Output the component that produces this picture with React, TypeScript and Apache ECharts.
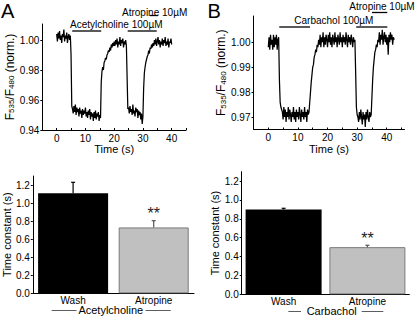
import { useEffect, useRef } from 'react';
import * as echarts from 'echarts';

const FONT = '"Liberation Sans", Arial, Helvetica, sans-serif';

// ---------- Data ----------
const sampleStep = 0.25; // s between samples

// Panel A: acetylcholine trace (F535/F480, normalised), t = 0 .. 40 s
const achTrace = [
  1.004, 0.999, 1.005, 1.001, 1.006, 1.000, 1.003, 0.998, 1.004, 1.002,
  1.007, 0.999, 1.003, 1.001, 1.005, 0.998, 1.002, 1.004, 1.000, 1.003,
  0.990, 0.956,
  0.954, 0.951, 0.956, 0.952, 0.957, 0.950, 0.955, 0.952, 0.954, 0.949,
  0.955, 0.951, 0.953, 0.948, 0.954, 0.950, 0.953, 0.951, 0.955, 0.949,
  0.952, 0.948, 0.953, 0.950, 0.954, 0.947, 0.952, 0.949, 0.951, 0.946,
  0.952, 0.948, 0.953, 0.947, 0.951, 0.949, 0.952, 0.946, 0.950, 0.948,
  0.972, 0.979, 0.982, 0.980, 0.985, 0.986, 0.988, 0.987, 0.990, 0.991,
  0.993, 0.992, 0.995, 0.993, 0.997, 0.995, 0.998, 0.996, 0.999,
  0.996, 1.000, 0.997, 1.001, 0.995, 0.999, 0.997, 1.002, 0.996, 1.000,
  0.998, 1.001, 0.995, 0.999, 0.997, 1.000, 0.996,
  0.975, 0.954,
  0.955, 0.951, 0.956, 0.952, 0.954, 0.950, 0.957, 0.951, 0.953, 0.949,
  0.955, 0.952, 0.954, 0.948, 0.953, 0.950, 0.952, 0.947, 0.951, 0.944,
  0.949,
  0.968, 0.978, 0.982, 0.985, 0.987, 0.989, 0.990, 0.993, 0.991, 0.995,
  0.994, 0.997, 0.995, 0.998,
  0.996, 1.000, 0.997, 1.001, 0.996, 0.999, 1.002, 0.997, 1.000, 0.995,
  0.999, 0.997, 1.001, 0.996, 1.000, 0.998, 1.002, 0.996, 0.999, 0.997,
  1.001, 0.995, 0.999, 0.998, 1.001, 0.997,
];

// Panel B: carbachol trace, t = 0 .. 42.5 s
const carbTrace = [
  0.998, 1.002, 0.997, 1.003, 0.999, 1.001, 0.997, 1.003, 0.998, 1.002,
  0.999, 1.003, 0.997, 1.001, 1.002,
  0.985, 0.976, 0.974, 0.973,
  0.972, 0.969, 0.974, 0.970, 0.973, 0.968, 0.972, 0.970, 0.974, 0.969,
  0.973, 0.971, 0.968, 0.972, 0.970, 0.974, 0.969, 0.972, 0.968, 0.973,
  0.970, 0.972, 0.969, 0.974, 0.971, 0.968, 0.973, 0.970, 0.972, 0.969,
  0.974, 0.970, 0.972, 0.968, 0.973, 0.971, 0.972,
  0.976, 0.980, 0.984, 0.987, 0.990, 0.991, 0.994, 0.995, 0.997, 0.996,
  0.999, 0.998, 1.001,
  0.999, 1.003, 0.998, 1.002, 1.000, 1.004, 0.998, 1.002, 0.999, 1.003,
  1.001, 0.998, 1.003, 1.000, 1.004, 0.999, 1.002, 0.998, 1.003, 1.001,
  0.999, 1.004, 1.000, 1.002, 0.998, 1.003, 1.001, 0.999, 1.004, 1.000,
  1.002, 0.998, 1.003, 1.000, 1.002, 0.999, 1.004, 1.001, 0.998, 1.003,
  1.000, 1.002, 0.999, 1.003, 1.001, 0.998, 1.002, 1.000, 1.001,
  0.988, 0.974, 0.971,
  0.970, 0.968, 0.972, 0.969, 0.973, 0.970, 0.967, 0.972, 0.969, 0.971,
  0.966, 0.972, 0.969, 0.973, 0.970, 0.968, 0.972, 0.970, 0.971,
  0.978, 0.985, 0.990, 0.993, 0.996, 0.997, 0.999, 0.998, 1.001,
  1.000, 1.004, 0.999, 1.003, 1.001, 1.005, 0.999, 1.002, 1.004, 1.000,
  1.003, 0.999, 1.002, 0.995, 1.003, 1.000, 1.004, 1.001, 1.003, 0.999,
  1.002, 1.001,
];

const timeLabelTicks = [0, 10, 20, 30, 40];
const timeMinorTicks = [0, 5, 10, 15, 20, 25, 30, 35, 40, 45];
const achYTicks = [0.94, 0.96, 0.98, 1.0];
const carbYTicks = [0.97, 0.98, 0.99, 1.0];

// drug application periods (s)
const achAgonistPeriods = [[5.4, 15.5], [24.7, 34.8]];
const achAtropinePeriod = [32.4, 35.3];
const carbAgonistPeriods = [[3.7, 14.1], [29.7, 40.2]];
const carbAtropinePeriod = [35.0, 40.2];

// bar charts
const barCategories = ['Wash', 'Atropine'];
const achTau = [1.11, 0.73];
const achTauErr = [0.12, 0.075];
const carbTau = [0.9, 0.5];
const carbTauErr = [0.012, 0.02];
const significance = ['', '**'];
const barYTicks = [0, 0.2, 0.4, 0.6, 0.8, 1.0, 1.2];

// ---------- Styles ----------
const axisLineStyle = { color: '#000', width: 1 };
const labelStyle = { fontSize: 10, color: '#000', fontFamily: FONT };
const barItemStyles = [
  { color: '#000000' },
  { color: '#c0c0c0', borderColor: '#7a7a7a', borderWidth: 1 },
];
const errColors = ['#000', '#555'];

const yNameRich = {
  a: { fontSize: 12, lineHeight: 12, verticalAlign: 'top', fontFamily: FONT, color: '#000' },
  s: { fontSize: 8, lineHeight: 3, verticalAlign: 'bottom', fontFamily: FONT, color: '#000' },
};

function traceAxes(gi: number, xMax: number, yMin: number, yMax: number, yTicks: number[], nameGap: number) {
  const x = {
    gridIndex: gi,
    type: 'value',
    min: -5,
    max: xMax,
    axisLine: { show: true, onZero: false, lineStyle: axisLineStyle },
    axisTick: { show: true, inside: true, length: 2, customValues: timeMinorTicks, lineStyle: axisLineStyle },
    axisLabel: { ...labelStyle, margin: 3, customValues: timeLabelTicks, formatter: (v: number) => String(v) },
    splitLine: { show: false },
    name: 'Time (s)',
    nameLocation: 'middle',
    nameGap: 10,
    nameTextStyle: { fontSize: 11, color: '#000', fontFamily: FONT },
  };
  const y = {
    gridIndex: gi,
    type: 'value',
    min: yMin,
    max: yMax,
    axisLine: { show: true, onZero: false, lineStyle: axisLineStyle },
    axisTick: { show: true, inside: false, length: 2, customValues: yTicks, lineStyle: axisLineStyle },
    axisLabel: { ...labelStyle, margin: 3, customValues: yTicks, formatter: (v: number) => v.toFixed(2) },
    splitLine: { show: false },
    name: '{a|F}{s|535}{a|/F}{s|480}{a| (norm.)}',
    nameLocation: 'middle',
    nameRotate: 90,
    nameGap,
    nameTextStyle: { rich: yNameRich },
  };
  return { x, y };
}

function barAxes(gi: number, nameGap: number) {
  const x = {
    gridIndex: gi,
    type: 'category',
    data: barCategories,
    axisLine: { show: true, onZero: false, lineStyle: axisLineStyle },
    axisTick: { show: false },
    axisLabel: { ...labelStyle, margin: 2 },
  };
  const y = {
    gridIndex: gi,
    type: 'value',
    min: 0,
    max: 1.3,
    axisLine: { show: true, onZero: false, lineStyle: axisLineStyle },
    axisTick: { show: true, inside: false, length: 2, customValues: barYTicks, lineStyle: axisLineStyle },
    axisLabel: { ...labelStyle, margin: 3, customValues: barYTicks, formatter: (v: number) => v.toFixed(1) },
    splitLine: { show: false },
    name: 'Time constant (s)',
    nameLocation: 'middle',
    nameRotate: 90,
    nameGap,
    nameTextStyle: { fontSize: 11, color: '#000', fontFamily: FONT },
  };
  return { x, y };
}

function errorSeries(gi: number, means: number[], errs: number[]) {
  return {
    type: 'custom',
    xAxisIndex: gi,
    yAxisIndex: gi,
    z: 10,
    data: means.map((m, i) => [i, m, errs[i]]),
    renderItem: (params: any, api: any) => {
      const base = api.coord([api.value(0), api.value(1)]);
      const top = api.coord([api.value(0), api.value(1) + api.value(2)]);
      const c = errColors[params.dataIndex];
      const children: any[] = [
        { type: 'line', shape: { x1: base[0], y1: base[1], x2: top[0], y2: top[1] }, style: { stroke: c, lineWidth: 1.2 } },
        { type: 'line', shape: { x1: top[0] - 2, y1: top[1], x2: top[0] + 2, y2: top[1] }, style: { stroke: c, lineWidth: 1.2 } },
      ];
      const sig = significance[params.dataIndex];
      if (sig) {
        children.push({
          type: 'text',
          x: top[0],
          y: top[1] - 7,
          style: { text: sig, fontSize: 16, fill: '#222', align: 'center', verticalAlign: 'middle', fontFamily: FONT },
        });
      }
      return { type: 'group', children };
    },
  };
}

export default function App() {
  const ref = useRef<HTMLDivElement>(null);

  useEffect(() => {
    document.body.style.margin = '0';
    const chart = echarts.init(ref.current!, undefined, { renderer: 'svg' });

    const aTop = traceAxes(0, 45, 0.94, 1.01067, achYTicks, 22);
    const bTop = traceAxes(1, 46, 0.965, 1.0105, carbYTicks, 20);
    const aBot = barAxes(2, 17.5);
    const bBot = barAxes(3, 17.5);

    chart.setOption({
      animation: false,
      backgroundColor: '#fff',
      textStyle: { fontFamily: FONT },
      grid: [
        { left: 42.3, top: 24, width: 143.75, height: 106 },
        { left: 253.5, top: 16, width: 151, height: 113.5 },
        { left: 29, top: 176, width: 165, height: 117.3 },
        { left: 241.7, top: 171.7, width: 167.6, height: 122.6 },
      ],
      xAxis: [aTop.x, bTop.x, aBot.x, bBot.x],
      yAxis: [aTop.y, bTop.y, aBot.y, bBot.y],
      series: [
        {
          type: 'line', xAxisIndex: 0, yAxisIndex: 0, symbol: 'none',
          lineStyle: { color: '#000', width: 1.25 },
          data: achTrace.map((v, i) => [i * sampleStep, v]),
        },
        {
          type: 'line', xAxisIndex: 1, yAxisIndex: 1, symbol: 'none',
          lineStyle: { color: '#000', width: 1.25 },
          data: carbTrace.map((v, i) => [i * sampleStep, v]),
        },
        {
          type: 'bar', xAxisIndex: 2, yAxisIndex: 2, barWidth: 70,
          data: achTau.map((v, i) => ({ value: v, itemStyle: barItemStyles[i] })),
        },
        {
          type: 'bar', xAxisIndex: 3, yAxisIndex: 3, barWidth: 76,
          data: carbTau.map((v, i) => ({ value: v, itemStyle: barItemStyles[i] })),
        },
        errorSeries(2, achTau, achTauErr),
        errorSeries(3, carbTau, carbTauErr),
      ],
    });

    const px = (axis: number, t: number) => chart.convertToPixel({ xAxisIndex: axis }, t) as number;
    const hLine = (x1: number, x2: number, y: number, w = 1.3, color = '#000') => ({
      type: 'line', shape: { x1, y1: y, x2, y2: y }, style: { stroke: color, lineWidth: w },
    });
    const txt = (text: string, x: number, y: number, size: number, align = 'left') => ({
      type: 'text', x, y,
      style: { text, fontSize: size, fill: '#000', fontFamily: FONT, align, verticalAlign: 'middle' },
    });

    const graphics: any[] = [
      txt('A', 1, 10.5, 20),
      txt('B', 207.5, 10.5, 20),
      // panel A annotations
      txt('Atropine 10µM', 122, 12, 10),
      hLine(px(0, achAtropinePeriod[0]), px(0, achAtropinePeriod[1]), 15.5),
      txt('Acetylcholine 100µM', 70, 24, 10),
      ...achAgonistPeriods.map(([a, b]) => hLine(px(0, a), px(0, b), 31)),
      // panel B annotations
      txt('Atropine 10µM', 349.3, 6.5, 10),
      hLine(px(1, carbAtropinePeriod[0]), px(1, carbAtropinePeriod[1]), 12.5),
      txt('Carbachol 100µM', 294.3, 20, 10),
      ...carbAgonistPeriods.map(([a, b]) => hLine(px(1, a), px(1, b), 27)),
      // bar chart group labels
      txt('Acetylcholine', 110.8, 310, 11, 'center'),
      hLine(51.7, 76.5, 310.5, 0.8, '#333'),
      hLine(145.5, 170.7, 310.5, 0.8, '#333'),
      txt('Carbachol', 331.7, 311, 11, 'center'),
      hLine(288.3, 301, 311.5, 0.8, '#333'),
      hLine(361.7, 383.3, 311.5, 0.8, '#333'),
    ];
    chart.setOption({ graphic: graphics });

    return () => chart.dispose();
  }, []);

  return <div ref={ref} style={{ width: 416, height: 316 }} />;
}
